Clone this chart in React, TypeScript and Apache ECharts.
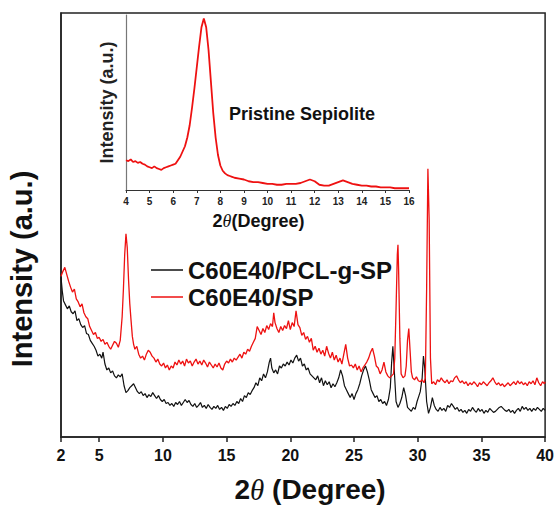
import React, { useEffect, useRef } from "react";
import * as echarts from "echarts";

// Main plot: 2θ (deg) vs intensity (a.u.)
const spData: number[][] = [
  [2.0,163],[2.15,168],[2.3,172],[2.45,165],[2.6,158],[2.75,152],[2.9,147],[3.05,150],[3.2,140],[3.35,137],
  [3.5,132],[3.65,135],[3.8,126],[3.95,122],[4.1,120],[4.25,112],[4.4,108],[4.55,104],[4.7,106],[4.85,100],
  [5.0,101],[5.15,97],[5.3,99],[5.45,94],[5.6,96],[5.75,92],[5.9,89],[6.05,93],[6.2,97],[6.35,95],
  [6.5,91],[6.65,98],[6.8,122],[6.9,150],[7.0,185],[7.1,206],[7.2,192],[7.3,160],[7.4,135],[7.5,118],
  [7.6,102],[7.7,94],[7.8,89],[7.95,92],[8.1,84],[8.25,80],[8.4,82],[8.55,78],[8.7,84],[8.85,88],
  [9.0,86],[9.15,82],[9.3,80],[9.45,76],[9.6,79],[9.75,74],[9.9,72],[10.05,75],[10.2,70],[10.35,73],
  [10.5,68],[10.65,72],[10.8,70],[10.95,76],[11.1,73],[11.25,78],[11.4,74],[11.55,77],[11.7,72],[11.85,79],
  [12.0,75],[12.15,77],[12.3,72],[12.45,76],[12.6,79],[12.75,74],[12.9,77],[13.05,73],[13.2,78],[13.35,75],
  [13.5,71],[13.65,76],[13.8,73],[13.95,70],[14.1,74],[14.25,71],[14.4,75],[14.55,70],[14.7,68],[14.85,74],
  [15.0,77],[15.15,75],[15.3,79],[15.45,76],[15.6,80],[15.75,78],[15.9,81],[16.05,84],[16.2,80],[16.35,86],
  [16.5,84],[16.65,89],[16.8,87],[16.95,92],[17.1,96],[17.25,100],[17.4,112],[17.55,108],[17.7,104],[17.85,110],
  [18.0,106],[18.15,113],[18.3,109],[18.45,115],[18.6,112],[18.7,126],[18.8,116],[18.95,110],[19.1,106],[19.25,112],
  [19.4,108],[19.55,113],[19.7,110],[19.85,118],[20.0,109],[20.15,116],[20.3,112],[20.45,128],[20.6,114],[20.75,111],
  [20.9,103],[21.05,106],[21.2,99],[21.35,102],[21.5,96],[21.65,100],[21.8,88],[21.95,92],[22.1,86],[22.25,90],
  [22.4,84],[22.55,88],[22.7,82],[22.85,92],[23.0,85],[23.15,80],[23.3,86],[23.45,78],[23.6,83],[23.75,76],
  [23.9,80],[24.05,74],[24.2,84],[24.35,94],[24.5,80],[24.65,72],[24.8,73],[24.95,70],[25.1,74],[25.25,68],
  [25.4,72],[25.55,66],[25.7,70],[25.85,73],[26.0,76],[26.15,80],[26.3,86],[26.45,90],[26.6,82],[26.75,72],
  [26.9,70],[27.05,64],[27.2,68],[27.35,76],[27.5,66],[27.65,62],[27.8,60],[27.95,62],[28.1,64],[28.2,80],
  [28.3,130],[28.4,185],[28.45,195],[28.5,170],[28.6,100],[28.7,64],[28.85,60],[29.0,62],[29.1,72],[29.2,98],
  [29.3,110],[29.4,88],[29.5,66],[29.6,60],[29.75,58],[29.9,61],[30.05,57],[30.2,56],[30.35,58],[30.5,55],
  [30.6,60],[30.7,150],[30.8,272],[30.9,220],[31.0,80],[31.1,54],[31.25,56],[31.4,53],[31.55,58],[31.7,56],
  [31.85,60],[32.0,57],[32.15,55],[32.3,58],[32.45,54],[32.6,57],[32.75,56],[32.9,60],[33.05,62],[33.2,58],
  [33.35,55],[33.5,57],[33.65,54],[33.8,56],[33.95,52],[34.1,55],[34.25,53],[34.4,56],[34.55,54],[34.7,51],
  [34.85,55],[35.0,53],[35.15,56],[35.3,54],[35.45,52],[35.6,55],[35.75,57],[35.9,60],[36.05,56],[36.2,53],
  [36.35,55],[36.5,52],[36.65,54],[36.8,51],[36.95,53],[37.1,55],[37.25,52],[37.4,54],[37.55,56],[37.7,53],
  [37.85,57],[38.0,54],[38.15,56],[38.3,53],[38.45,55],[38.6,52],[38.75,56],[38.9,54],[39.05,57],[39.2,53],
  [39.35,60],[39.5,55],[39.65,52],[39.8,56],[39.95,54],[40.0,56]
];

const pclData: number[][] = [
  [2.0,162],[2.1,148],[2.2,138],[2.35,134],[2.5,130],[2.65,133],[2.8,127],[2.95,125],[3.1,128],[3.25,118],
  [3.4,120],[3.55,114],[3.7,111],[3.85,113],[4.0,105],[4.15,104],[4.3,98],[4.45,95],[4.6,92],[4.75,88],
  [4.9,82],[5.05,84],[5.2,80],[5.3,86],[5.45,74],[5.6,68],[5.75,70],[5.9,65],[6.05,67],[6.2,62],
  [6.35,60],[6.5,63],[6.65,61],[6.8,64],[6.95,52],[7.1,45],[7.25,47],[7.4,50],[7.55,52],[7.7,54],
  [7.85,50],[8.0,46],[8.15,44],[8.3,46],[8.45,42],[8.6,44],[8.75,40],[8.9,43],[9.05,41],[9.2,45],
  [9.35,42],[9.5,39],[9.65,42],[9.8,38],[9.95,36],[10.1,38],[10.25,34],[10.4,35],[10.55,32],[10.7,34],
  [10.85,31],[11.0,35],[11.15,33],[11.3,36],[11.45,32],[11.6,35],[11.75,38],[11.9,35],[12.05,37],[12.2,33],
  [12.35,31],[12.5,34],[12.65,30],[12.8,32],[12.95,35],[13.1,30],[13.25,32],[13.4,29],[13.55,33],[13.7,30],
  [13.85,28],[14.0,31],[14.15,29],[14.3,32],[14.45,28],[14.6,30],[14.75,27],[14.9,31],[15.05,29],[15.2,33],
  [15.35,31],[15.5,34],[15.65,32],[15.8,36],[15.95,34],[16.1,39],[16.25,36],[16.4,42],[16.55,40],[16.7,45],
  [16.85,43],[17.0,47],[17.15,50],[17.3,55],[17.45,52],[17.6,60],[17.75,57],[17.9,64],[18.05,60],[18.2,66],
  [18.35,76],[18.45,80],[18.55,70],[18.7,65],[18.85,68],[19.0,64],[19.15,72],[19.3,70],[19.45,74],[19.6,72],
  [19.75,76],[19.9,73],[20.05,78],[20.2,75],[20.35,80],[20.5,83],[20.65,77],[20.8,80],[20.95,72],[21.1,74],
  [21.25,68],[21.4,70],[21.55,64],[21.7,62],[21.85,60],[22.0,58],[22.15,62],[22.3,55],[22.45,60],[22.6,52],
  [22.75,57],[22.9,53],[23.05,56],[23.2,50],[23.35,54],[23.5,51],[23.65,55],[23.8,60],[23.95,68],[24.1,62],
  [24.25,52],[24.4,48],[24.55,44],[24.7,40],[24.85,44],[25.0,38],[25.15,44],[25.3,48],[25.45,54],[25.6,62],
  [25.75,68],[25.9,72],[26.05,66],[26.2,58],[26.35,48],[26.5,44],[26.65,40],[26.8,42],[26.95,36],[27.1,38],
  [27.25,34],[27.4,36],[27.55,32],[27.7,38],[27.85,50],[27.95,75],[28.05,92],[28.15,70],[28.3,36],[28.45,30],
  [28.6,34],[28.75,40],[28.9,50],[29.05,42],[29.2,30],[29.35,28],[29.5,26],[29.65,30],[29.8,28],[29.95,36],
  [30.1,42],[30.2,46],[30.35,60],[30.45,82],[30.55,70],[30.7,36],[30.85,24],[31.0,30],[31.15,40],[31.3,32],
  [31.45,28],[31.6,26],[31.75,30],[31.9,27],[32.05,29],[32.2,26],[32.35,32],[32.5,30],[32.65,34],[32.8,31],
  [32.95,28],[33.1,30],[33.25,26],[33.4,28],[33.55,25],[33.7,27],[33.85,24],[34.0,28],[34.15,26],[34.3,30],
  [34.45,27],[34.6,25],[34.75,29],[34.9,26],[35.05,28],[35.2,24],[35.35,27],[35.5,25],[35.65,29],[35.8,27],
  [35.95,25],[36.1,26],[36.25,28],[36.4,30],[36.55,31],[36.7,29],[36.85,27],[37.0,26],[37.15,28],[37.3,25],
  [37.45,27],[37.6,24],[37.75,27],[37.9,29],[38.05,26],[38.2,31],[38.35,28],[38.5,30],[38.65,27],[38.8,29],
  [38.95,26],[39.1,29],[39.25,27],[39.4,30],[39.55,28],[39.7,26],[39.85,29],[40.0,27]
];

// Inset: pristine sepiolite
const pristineData: number[][] = [
  [4.0,17],[4.1,16.5],[4.2,17.5],[4.3,16],[4.4,16.5],[4.5,15.5],[4.6,16],[4.7,15],[4.8,14.5],[4.9,13.5],
  [5.0,13],[5.1,12.5],[5.2,13.5],[5.3,12.5],[5.4,12],[5.5,11.5],[5.6,12.5],[5.7,13],[5.8,13.5],[5.9,14],
  [6.0,14.5],[6.1,15],[6.2,17],[6.3,19],[6.4,22],[6.5,25],[6.6,30],[6.7,37],[6.8,47],[6.9,58],
  [7.0,70],[7.1,82],[7.2,93],[7.3,98],[7.4,93],[7.5,80],[7.6,62],[7.7,44],[7.8,30],[7.9,20],
  [8.0,14],[8.1,11],[8.2,9.5],[8.3,8.5],[8.4,8],[8.5,7.5],[8.6,7],[8.8,6.5],[9.0,6],[9.2,5],
  [9.4,4.5],[9.6,4.5],[9.8,4],[10.0,3.5],[10.2,3.5],[10.4,3],[10.6,3],[10.8,3.5],[11.0,3.5],[11.2,3.5],
  [11.4,4],[11.6,5],[11.8,6],[12.0,5],[12.2,3],[12.4,2.5],[12.6,2.5],[12.8,3.5],[13.0,4.5],[13.2,5.5],
  [13.4,4.5],[13.6,3.5],[13.8,3],[14.0,2.5],[14.2,2.5],[14.4,2],[14.6,2],[14.8,1.5],[15.0,1.5],[15.2,1.5],
  [15.4,1],[15.6,1],[15.8,1],[16.0,1]
];

const mainTicks = [2, 5, 10, 15, 20, 25, 30, 35, 40];
const seriesNames = ["C60E40/PCL-g-SP", "C60E40/SP"];

const FONT = "'Liberation Sans', Arial, Helvetica, sans-serif";
const SERIF = "'Liberation Serif', 'DejaVu Serif', serif";

export default function App() {
  const ref = useRef<HTMLDivElement>(null);
  useEffect(() => {
    document.body.style.margin = "0";
    if (!ref.current) return;
    const chart = echarts.init(ref.current, undefined, { renderer: "svg" });
    chart.setOption({
      animation: false,
      backgroundColor: "#ffffff",
      textStyle: { fontFamily: FONT },
      grid: [
        { left: 61, right: 10, top: 13, bottom: 66, show: true, borderColor: "#222", borderWidth: 1.5, backgroundColor: "transparent" },
        { left: 126, top: 15, width: 283, height: 175 },
      ],
      legend: {
        orient: "vertical",
        left: 146,
        top: 253,
        icon: "rect",
        itemWidth: 32,
        itemHeight: 1.5,
        itemGap: 3,
        data: seriesNames,
        textStyle: { fontFamily: FONT, fontSize: 24, fontWeight: "bold", color: "#111", lineHeight: 24 },
      },
      xAxis: [
        {
          gridIndex: 0,
          type: "value",
          min: 2,
          max: 40,
          axisLine: { show: true, lineStyle: { color: "#222", width: 1.5 } },
          axisTick: { show: true, inside: false, length: 5, customValues: mainTicks, lineStyle: { color: "#222", width: 1.5 } },
          axisLabel: { customValues: mainTicks, margin: 10, fontSize: 16, fontWeight: "bold", color: "#111", fontFamily: FONT },
          splitLine: { show: false },
          name: "{a|2}{b|θ}{a| (Degree)}",
          nameLocation: "middle",
          nameGap: 38,
          nameTextStyle: {
            padding: [0, 0, 0, 14],
            rich: {
              a: { fontSize: 28, fontWeight: "bold", color: "#111", fontFamily: FONT },
              b: { fontSize: 29, fontStyle: "italic", color: "#111", fontFamily: SERIF },
            },
          },
        },
        {
          gridIndex: 1,
          type: "value",
          min: 4,
          max: 16,
          interval: 1,
          axisLine: { show: true, lineStyle: { color: "#333", width: 1.2 } },
          axisTick: { show: true, inside: false, length: 3, lineStyle: { color: "#333" } },
          axisLabel: { margin: 6, fontSize: 10, fontWeight: "bold", color: "#222", fontFamily: FONT },
          splitLine: { show: false },
          name: "{a|2}{b|θ}{a|(Degree)}",
          nameLocation: "middle",
          nameGap: 22,
          nameTextStyle: {
            padding: [0, 18, 0, 0],
            rich: {
              a: { fontSize: 18, fontWeight: "bold", color: "#111", fontFamily: FONT },
              b: { fontSize: 18, fontStyle: "italic", color: "#111", fontFamily: SERIF },
            },
          },
        },
      ],
      yAxis: [
        {
          gridIndex: 0,
          type: "value",
          min: 0,
          max: 430,
          axisLine: { show: true, lineStyle: { color: "#222", width: 1.5 } },
          axisTick: { show: false },
          axisLabel: { show: false },
          splitLine: { show: false },
        },
        {
          gridIndex: 1,
          type: "value",
          min: 0,
          max: 100,
          axisLine: { show: true, lineStyle: { color: "#777", width: 1.2 } },
          axisTick: { show: false },
          axisLabel: { show: false },
          splitLine: { show: false },
          name: "Intensity (a.u.)",
          nameLocation: "middle",
          nameGap: 10,
          nameTextStyle: { fontSize: 18, fontWeight: "bold", color: "#222", fontFamily: FONT },
        },
      ],
      graphic: [
        {
          type: "text",
          x: 22,
          y: 269,
          rotation: Math.PI / 2,
          style: {
            text: "Intensity (a.u.)",
            font: `bold 29px ${FONT}`,
            fill: "#111",
            align: "center",
            verticalAlign: "middle",
          },
        },
        {
          type: "text",
          x: 229,
          y: 114,
          style: {
            text: "Pristine Sepiolite",
            font: `bold 18px ${FONT}`,
            fill: "#111",
            align: "left",
            verticalAlign: "middle",
          },
        },
      ],
      series: [
        {
          name: seriesNames[0],
          type: "line",
          xAxisIndex: 0,
          yAxisIndex: 0,
          data: pclData,
          showSymbol: false,
          symbol: "none",
          lineStyle: { color: "#111", width: 1.2 },
          itemStyle: { color: "#111" },
        },
        {
          name: seriesNames[1],
          type: "line",
          xAxisIndex: 0,
          yAxisIndex: 0,
          data: spData,
          showSymbol: false,
          symbol: "none",
          lineStyle: { color: "#ee1111", width: 1.3 },
          itemStyle: { color: "#ee1111" },
        },
        {
          name: "Pristine Sepiolite",
          type: "line",
          xAxisIndex: 1,
          yAxisIndex: 1,
          data: pristineData,
          showSymbol: false,
          symbol: "none",
          lineStyle: { color: "#ee1111", width: 1.8 },
          itemStyle: { color: "#ee1111" },
        },
      ],
    });
    return () => chart.dispose();
  }, []);
  return <div ref={ref} style={{ width: 557, height: 509 }} />;
}
